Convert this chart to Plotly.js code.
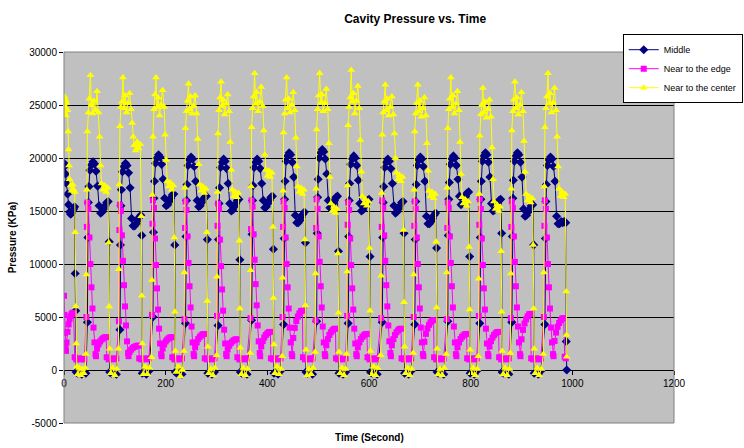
<!DOCTYPE html>
<html>
<head>
<meta charset="utf-8">
<script src="https://cdn.plot.ly/plotly-3.0.1.min.js"></script>
<style>html,body{margin:0;padding:0;background:#fff;}#chart{width:744px;height:448px;}</style>
</head>
<body>
<div id="chart"></div>
<script>
// ---- Data (time in seconds, pressure in KPa) ----
var seriesNames = ["Middle", "Near to the edge", "Near to the center"];

var midT = [
 0,1,3,5,7,9,11,13,15,17,19,21,22,23,24,27,31,35,39,43,
 46,47,48,49,51,54,57,60,63,66,69,72,75,78,81,84,87,89,90,93,98,103,
 110,111,112,113,115,118,121,124,127,130,133,136,139,142,145,148,151,153,154,157,162,167,
 175,176,177,178,180,183,186,189,192,195,198,201,204,207,210,213,216,218,219,222,227,232,
 239,240,241,242,244,247,250,253,256,259,262,265,268,271,274,277,280,282,283,286,291,296,
 303,304,305,306,308,311,314,317,320,323,326,329,332,335,338,341,344,346,347,350,355,360,
 369,370,371,372,374,377,380,383,386,389,392,395,398,401,404,407,410,412,413,416,421,426,
 432,433,434,435,437,440,443,446,449,452,455,458,461,464,467,470,473,475,476,479,484,489,
 497,498,499,500,502,505,508,511,514,517,520,523,526,529,532,535,538,540,541,544,549,554,
 559,560,561,562,564,567,570,573,576,579,582,585,588,591,594,597,600,602,603,606,611,616,
 626,627,628,629,631,634,637,640,643,646,649,652,655,658,661,664,667,669,670,673,678,683,
 690,691,692,693,695,698,701,704,707,710,713,716,719,722,725,728,731,733,734,737,742,747,
 755,756,757,758,760,763,766,769,772,775,778,781,784,787,790,793,796,798,799,802,807,812,
 818,819,820,821,823,826,829,832,835,838,841,844,847,850,853,856,859,861,862,865,870,875,
 881,882,883,884,886,889,892,895,898,901,904,907,910,913,916,919,922,924,925,928,933,938,
 946,947,948,949,951,954,957,960,963,966,969,972,975,978,981,984,987,988,989
];
var midP = [
 19500,19200,18500,17600,16600,15600,14900,14700,14800,15000,15200,15400,9100,5600,-200,-300,-100,-400,-200,-300,
 4500,12500,15800,17300,18850,19350,19650,19450,18750,17350,15500,14800,14900,15200,15500,15800,15900,12100,-200,-300,-100,-400,
 3800,11800,15500,17000,18700,19200,19500,19300,18600,17200,14300,13600,13600,13800,14100,14400,14600,12700,-300,-200,-400,-100,
 5000,13000,16200,17800,19500,20000,20300,20100,19400,18000,16200,15500,15600,15900,16200,16500,16600,11800,-200,-300,-100,-400,
 4400,12600,16000,17500,19300,19800,20100,19900,19200,17800,16000,15400,15500,15800,16100,16300,16400,12300,-300,-200,-400,-200,
 4200,12300,15700,17200,19100,19600,19900,19700,19000,17600,15700,15000,15100,15400,15700,16000,16100,10400,-200,-300,-100,-400,
 4700,12800,16000,17400,19100,19600,19900,19700,19000,17600,16000,15300,15400,15700,16000,16300,16400,11400,-300,-200,-400,-100,
 4300,12400,16100,17800,19700,20200,20500,20300,19600,18200,14600,13900,13900,14100,14400,14700,14900,12000,-200,-300,-100,-400,
 4600,12900,16300,18000,20000,20500,20800,20600,19900,18500,16000,15300,15400,15700,16000,16300,16400,11200,-300,-200,-400,-200,
 4400,12600,16000,17600,19400,19900,20200,20000,19300,17900,15700,15000,15100,15400,15700,16000,16100,10700,-200,-300,-100,-400,
 4500,12500,15800,17300,19100,19600,19900,19700,19000,17600,15500,14800,14900,15200,15500,15800,15900,12900,-300,-200,-400,-100,
 4300,12300,15900,17500,19300,19800,20100,19900,19200,17800,14500,13800,13800,14000,14300,14600,14800,11500,-200,-300,-100,-400,
 4600,12700,16100,17700,19400,19900,20200,20000,19300,18000,16400,15600,15700,16000,16400,16700,16800,10700,-300,-200,-400,-100,
 4400,12500,16100,17800,19700,20200,20500,20300,19600,18200,15700,15000,15100,15400,15700,16000,16100,12900,-200,-300,-100,-400,
 4500,12600,16200,17900,19700,20200,20500,20300,19600,18200,15200,14500,14600,14900,15200,15500,15600,11800,-300,-200,-400,-100,
 4300,12400,15900,17500,19300,19800,20100,19900,19200,17800,14500,13800,13800,14000,13900,14000,13900,2700,0
];

var edgeT = [
 0,1,2,3,4,5,7,9,11,13,15,17,19,21,24,28,32,36,40,
 44,45,46,48,50,52,54,56,58,60,62,63,65,68,71,74,77,80,83,84,88,93,98,103,
 108,109,110,112,114,116,118,120,122,124,126,127,129,132,135,138,141,144,147,148,152,157,162,167,
 173,174,175,177,179,181,183,185,187,189,191,192,194,197,200,203,206,209,212,213,217,222,227,232,
 237,238,239,241,243,245,247,249,251,253,255,256,258,261,264,267,270,273,276,277,281,286,291,296,
 301,302,303,305,307,309,311,313,315,317,319,320,322,325,328,331,334,337,340,341,345,350,355,360,
 367,368,369,371,373,375,377,379,381,383,385,386,388,391,394,397,400,403,406,407,411,416,421,426,
 430,431,432,434,436,438,440,442,444,446,448,449,451,454,457,460,463,466,469,470,474,479,484,489,
 495,496,497,499,501,503,505,507,509,511,513,514,516,519,522,525,528,531,534,535,539,544,549,554,
 557,558,559,561,563,565,567,569,571,573,575,576,578,581,584,587,590,593,596,597,601,606,611,616,
 624,625,626,628,630,632,634,636,638,640,642,643,645,648,651,654,657,660,663,664,668,673,678,683,
 688,689,690,692,694,696,698,700,702,704,706,707,709,712,715,718,721,724,727,728,732,737,742,747,
 753,754,755,757,759,761,763,765,767,769,771,772,774,777,780,783,786,789,792,793,797,802,807,812,
 816,817,818,820,822,824,826,828,830,832,834,835,837,840,843,846,849,852,855,856,860,865,870,875,
 879,880,881,883,885,887,889,891,893,895,897,898,900,903,906,909,912,915,918,919,923,928,933,938,
 944,945,946,948,950,952,954,956,958,960,962,963,965,968,971,974,977,980,983,985,987
];
var edgeP = [
 7000,5200,3500,2200,1800,2600,3600,4300,4800,5100,5300,5400,5300,1200,1000,1100,1000,1100,1000,
 5000,13500,15800,15200,12500,10000,7800,5800,4000,2600,1500,1300,2020,2420,2690,2870,2990,3080,3100,1200,1000,1100,1000,1100,
 4600,13200,15600,15000,12700,10300,8000,6000,4200,2700,1600,1300,1700,1920,2070,2170,2240,2290,2300,1100,1000,1100,1000,1100,
 5200,13800,16000,15300,12400,9900,7700,5700,3900,2500,1500,1300,2020,2420,2690,2870,2990,3080,3100,1200,1000,1100,1000,1100,
 4800,13400,15900,15100,12600,10100,7900,5900,4100,2600,1500,1300,2140,2600,2920,3130,3270,3380,3400,1100,1000,1100,1000,1100,
 5100,13600,15700,15200,12300,9800,7600,5600,3800,2500,1500,1300,1940,2290,2530,2690,2800,2880,2900,1200,1000,1100,1000,1100,
 4900,13300,16000,15400,12800,10400,8100,6100,4200,2700,1600,1300,2220,2730,3070,3300,3460,3580,3600,1100,1000,1100,1000,1100,
 5000,13500,15900,15300,12500,10000,7800,5800,4000,2600,1500,1300,3020,3970,4610,5040,5340,5560,5600,1200,1000,1100,1000,1100,
 4700,13400,16100,15200,12600,10200,7900,5900,4100,2600,1500,1300,2340,2910,3300,3560,3740,3870,3900,1100,1000,1100,1000,1100,
 5100,13700,15800,15100,12400,9900,7700,5700,3900,2500,1500,1300,2140,2600,2920,3130,3270,3380,3400,1200,1000,1100,1000,1100,
 4900,13500,16000,15300,12700,10300,8000,6000,4200,2700,1600,1300,2340,2910,3300,3560,3740,3870,3900,1100,1000,1100,1000,1100,
 5000,13600,15900,15200,12500,10000,7800,5800,4000,2600,1500,1300,2660,3410,3920,4260,4500,4670,4700,1200,1000,1100,1000,1100,
 4800,13400,15800,15300,12600,10100,7900,5900,4100,2600,1500,1300,2140,2600,2920,3130,3270,3380,3400,1100,1000,1100,1000,1100,
 5100,13700,16100,15200,12400,9900,7700,5700,3900,2500,1500,1300,2220,2730,3070,3300,3460,3580,3600,1200,1000,1100,1000,1100,
 4900,13500,15900,15300,12600,10200,7900,5900,4100,2600,1500,1300,2900,3780,4380,4780,5060,5260,5300,1100,1000,1100,1000,1100,
 5000,13600,16000,15200,12500,10000,7800,5800,4000,2600,1500,1300,2740,3530,4070,4430,4680,4860,4900,1250,1100
];

var cenT = [
 0,1,2,3,4,5,7,8,9,10,11,13,15,17,19,21,22,23,24,25,27,30,33,36,39,42,
 43,44,45,46,48,50,52,54,56,59,62,65,68,70,72,74,77,80,83,86,88,89,90,92,96,100,104,
 107,108,109,110,112,114,116,118,120,123,126,129,132,134,136,138,141,144,147,150,152,153,154,156,160,164,168,
 172,173,174,175,177,179,181,183,185,188,191,194,197,199,201,203,206,209,212,215,217,218,219,221,225,229,233,
 236,237,238,239,241,243,245,247,249,252,255,258,261,263,265,267,270,273,276,279,281,282,283,285,289,293,297,
 300,301,302,303,305,307,309,311,313,316,319,322,325,327,329,331,334,337,340,343,345,346,347,349,353,357,361,
 366,367,368,369,371,373,375,377,379,382,385,388,391,393,395,397,400,403,406,409,411,412,413,415,419,423,427,
 429,430,431,432,434,436,438,440,442,445,448,451,454,456,458,460,463,466,469,472,474,475,476,478,482,486,490,
 494,495,496,497,499,501,503,505,507,510,513,516,519,521,523,525,528,531,534,537,539,540,541,543,547,551,554,
 556,557,558,559,561,563,565,567,569,572,575,578,581,583,585,587,590,593,596,599,601,602,603,605,609,613,617,
 623,624,625,626,628,630,632,634,636,639,642,645,648,650,652,654,657,660,663,666,668,669,670,672,676,680,684,
 687,688,689,690,692,694,696,698,700,703,706,709,712,714,716,718,721,724,727,730,732,733,734,736,740,744,748,
 752,753,754,755,757,759,761,763,765,768,771,774,777,779,781,783,786,789,792,795,797,798,799,801,805,809,813,
 815,816,817,818,820,822,824,826,828,831,834,837,840,842,844,846,849,852,855,858,860,861,862,864,868,872,876,
 878,879,880,881,883,885,887,889,891,894,897,900,903,905,907,909,912,915,918,921,923,924,925,927,931,935,939,
 943,944,945,946,948,950,952,954,956,959,962,965,968,970,972,974,977,980,983,986,988,988.5,989
];
var cenP = [
 24200,25800,24800,25500,24000,25200,24500,22500,20800,19300,18000,17400,16900,17500,17000,16800,13000,6000,2500,300,-400,200,-500,100,-300,200,
 1500,9000,17000,22500,24300,25600,27800,25000,24200,25400,24500,26300,24300,22000,19300,17600,17000,17400,16800,17200,12000,6000,2000,-300,200,-500,100,
 2000,9500,17500,23000,24800,25300,27600,24700,25900,24300,25200,26100,24600,23300,22000,21200,20700,21500,20900,21300,14500,7000,2500,-400,300,-400,200,
 1200,8500,16500,22000,24600,26000,27600,24800,25700,24000,25000,26400,24800,22200,19800,17800,17300,17700,17000,17400,12500,5500,1800,-200,300,-600,0,
 1800,9200,17200,22800,24400,25400,27000,24600,25800,24200,24900,25900,24200,21800,19400,17500,16900,17300,16700,17100,13000,6500,2200,-300,100,-500,200,
 1400,8800,16800,22300,24500,25700,27200,24900,25500,24100,25100,26000,24400,21500,18900,17000,16400,16800,16300,16700,12200,5800,2100,-400,200,-500,100,
 1600,9400,17300,22900,24700,25800,28000,25100,26200,24400,25300,26700,24900,22600,20300,18900,18300,18800,18200,18600,13500,6800,2400,-300,300,-400,100,
 1300,8700,16900,22400,24200,25500,27600,24700,25600,24300,25000,26200,24500,21900,19200,17300,16800,17200,16600,17000,12300,6100,1900,-500,100,-400,200,
 1700,9100,17100,22700,24600,25900,28000,25200,26000,24400,25200,26500,24600,21400,18200,15700,15000,15400,14800,15200,11000,5400,1700,-300,200,-500,100,
 1500,9300,17400,23100,24800,25700,28300,25300,26100,24200,25400,26800,24700,21700,18700,16400,15700,16100,15500,15900,11500,5600,1800,-400,300,-500,200,
 1400,8900,16700,22200,24300,25300,26900,24500,25600,24000,24800,25800,24100,22300,20000,18600,18000,18400,17800,18200,13200,6400,2200,-300,200,-500,100,
 1600,9000,17000,22500,24200,25200,26900,24400,25400,23900,24700,25700,24000,21400,18800,16900,16400,16800,16200,16600,12100,5900,2000,-400,100,-500,200,
 1500,9200,17200,22800,24600,25600,27600,24800,25900,24200,25100,26300,24500,21500,18500,16300,15700,16100,15500,15900,11600,5700,1900,-300,200,-500,100,
 1300,8600,16600,22100,24100,25000,26600,24300,25300,23800,24600,25500,23900,21000,18000,15900,15200,15600,15000,15400,11200,5500,1800,-400,200,-500,100,
 1600,9100,17100,22600,24400,25500,27200,24700,25700,24100,25000,26200,24400,21600,18700,16600,16000,16400,15800,16200,11800,5800,2000,-300,200,-500,100,
 1500,9200,17300,22900,24700,25800,28000,25100,26100,24300,25200,26600,24500,22000,19200,17100,16400,16800,16300,16600,7400,3300,1250
];

var xTickVals = [0, 200, 400, 600, 800, 1000, 1200];
var yTickVals = [-5000, 0, 5000, 10000, 15000, 20000, 25000, 30000];
var yTickText = ["-5000", "0", "5000", "10000", "15000", "20000", "25000", "30000"];

// ---- Chart ----
var FONT = "Liberation Sans, Arial, sans-serif";

var traces = [
  {x: midT, y: midP, name: seriesNames[0], type: "scatter", mode: "lines+markers",
   line: {color: "#000080", width: 1},
   marker: {symbol: "diamond", size: 7, color: "#000080", line: {width: 0}}},
  {x: edgeT, y: edgeP, name: seriesNames[1], type: "scatter", mode: "lines+markers",
   line: {color: "#FF00FF", width: 1},
   marker: {symbol: "square", size: 6, color: "#FF00FF", line: {width: 0}}},
  {x: cenT, y: cenP, name: seriesNames[2], type: "scatter", mode: "lines+markers",
   line: {color: "#FFFF00", width: 1},
   marker: {symbol: "triangle-up", size: 7, color: "#FFFF00", line: {width: 0}}}
];

var layout = {
  width: 744, height: 448,
  margin: {l: 64, r: 70, t: 52, b: 25, autoexpand: false},
  paper_bgcolor: "#FFFFFF",
  plot_bgcolor: "#C0C0C0",
  font: {family: FONT, size: 10, color: "#000"},
  title: {text: "Cavity Pressure vs. Time", font: {family: FONT, size: 12, weight: 700, color: "#000"},
          x: 0.558, xref: "container", xanchor: "center", y: 0.958, yref: "container", yanchor: "middle"},
  xaxis: {range: [0, 1200], tickvals: xTickVals, tickformat: "d",
          anchor: "free", position: 1/7,
          showgrid: false, zeroline: false, showline: false,
          ticks: "outside", ticklen: 4, tickcolor: "#000", tickwidth: 1,
          tickfont: {family: FONT, size: 10, color: "#000"}},
  yaxis: {range: [-5000, 30000], tickvals: yTickVals, ticktext: yTickText,
          showgrid: true, gridcolor: "#000", gridwidth: 1, zeroline: false, showline: false,
          ticks: "outside", ticklen: 4, tickcolor: "#000", tickwidth: 1,
          tickfont: {family: FONT, size: 10, color: "#000"},
          title: {text: "Pressure (KPa)", font: {family: FONT, size: 10, weight: 700, color: "#000"}, standoff: 10}},
  showlegend: true,
  legend: {x: 0.916, xanchor: "left", y: 1.048, yanchor: "top",
           bgcolor: "#FFFFFF", bordercolor: "#000", borderwidth: 1,
           font: {family: FONT, size: 9, color: "#000"}, itemwidth: 30, tracegroupgap: 0},
  shapes: [{type: "rect", xref: "paper", yref: "paper", x0: 0, x1: 1, y0: 0, y1: 1,
            line: {color: "#808080", width: 1}, layer: "above"}],
  annotations: [{text: "Time (Second)", xref: "paper", yref: "paper", x: 0.5, y: -0.04,
                 xanchor: "center", yanchor: "middle", showarrow: false,
                 font: {family: FONT, size: 10, weight: 700, color: "#000"}}]
};

Plotly.newPlot("chart", traces, layout, {displayModeBar: false, staticPlot: true});
</script>
</body>
</html>
